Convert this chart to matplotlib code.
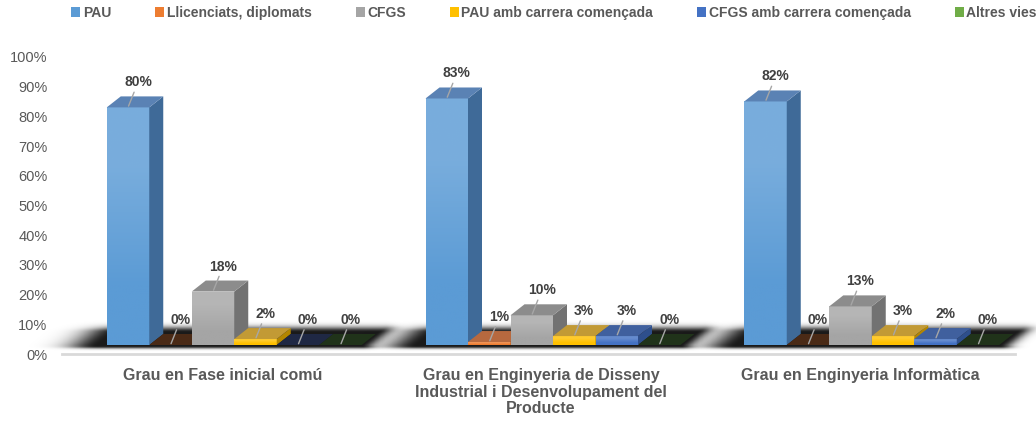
import numpy as np
import matplotlib
matplotlib.use("Agg")
import matplotlib.pyplot as plt
from matplotlib.patches import Polygon, Patch
from matplotlib.colors import to_rgb

plt.rcParams['font.family'] = ['Liberation Sans', 'DejaVu Sans']

# --- data ---
categories = ["Grau en Fase inicial comú",
              "Grau en Enginyeria de Disseny\nIndustrial i Desenvolupament del\nProducte",
              "Grau en Enginyeria Informàtica"]
series = ["PAU", "Llicenciats, diplomats", "CFGS", "PAU amb carrera començada",
          "CFGS amb carrera començada", "Altres vies"]
pau = [0.80, 0.83, 0.82]
llicenciats = [0.00, 0.01, 0.00]
cfgs = [0.18, 0.10, 0.13]
pau_amb = [0.02, 0.03, 0.03]
cfgs_amb = [0.00, 0.03, 0.02]
altres = [0.00, 0.00, 0.00]
yticks = [0, 0.1, 0.2, 0.3, 0.4, 0.5, 0.6, 0.7, 0.8, 0.9, 1.0]

values = [pau, llicenciats, cfgs, pau_amb, cfgs_amb, altres]

# --- style ---
front = ['#5B9BD5', '#ED7D31', '#A5A5A5', '#FFC000', '#4472C4', '#70AD47']
side = ['#3F6A98', '#A4561F', '#727272', '#B38600', '#2E4F8C', '#4D7A30']
top = ['#5A82B4', '#B7693F', '#8C8C8C', '#C29A35', '#40609E', '#4E7A34']
top_zero = ['#3A5A80', '#4A2A16', '#6A6A6A', '#7A5E1A', '#1F2844', '#20331A']
txt = '#595959'

GROUP_STEP = 7.5
FLOOR = 9 / 297
DX = 14 / 42.5
DY = 11 / 297

fig = plt.figure(figsize=(10.36, 4.21), dpi=100)
W, H = 1036, 421
ax = fig.add_axes([60 / W, 1 - 365 / H, (1025 - 60) / W, (365 - 45) / H])
xlim = ((60 - 128) / 42.5, (1025 - 128) / 42.5)
ylim = ((354 - 365) / 297, (354 - 45) / 297)

ax.plot([(62 - 128) / 42.5, (1015 - 128) / 42.5], [0, 0], color='#D9D9D9', lw=2, zorder=0.5)

# soft floor shadows (blurred parallelogram under each group)
for g in range(len(categories)):
    x0 = g * GROUP_STEP - 0.5
    x1 = g * GROUP_STEP + 5.5
    gx = np.linspace(x0 - 2.2, x1 + 1.6, 500)
    gy = np.linspace(FLOOR - 0.04, FLOOR + 0.10, 120)
    X, Y = np.meshgrid(gx, gy)
    t = np.clip((Y - FLOOR) / DY, 0, 1.6)
    left = x0 - 0.2 + t * DX
    right = x1 + t * DX
    dxl = np.clip(left - X, 0, None)
    dxr = np.clip(X - right, 0, None)
    dyb = np.clip(FLOOR - 0.004 - Y, 0, None)
    dyt = np.clip(Y - (FLOOR + DY + 0.006), 0, None)
    a = np.exp(-(dxl / 0.7) ** 2 - (dxr / 0.3) ** 2 - (dyb / 0.008) ** 2 - (dyt / 0.018) ** 2)
    img = np.zeros(a.shape + (4,))
    img[..., 3] = 0.9 * a
    ax.imshow(img, extent=(gx[0], gx[-1], gy[0], gy[-1]), origin='lower',
              aspect='auto', interpolation='bilinear', zorder=1, clip_on=False)

z = 2
for g in range(len(categories)):
    for i, s in enumerate(series):
        v = values[i][g]
        xc = g * GROUP_STEP + i
        bars = ax.bar(xc, v, width=1.0, bottom=FLOOR, color=front[i], edgecolor='none', zorder=z)
        if v > 0:
            c = np.array(to_rgb(front[i]))
            light = c + (1 - c) * 0.18
            grad = np.array([light, c]).reshape(2, 1, 3)
            im = ax.imshow(grad, extent=(xc - 0.5, xc + 0.5, FLOOR, FLOOR + v),
                           aspect='auto', interpolation='bilinear', zorder=z + 0.01)
            im.set_clip_path(bars.patches[0])
        ax.add_patch(Polygon([(xc + 0.5, FLOOR), (xc + 0.5 + DX, FLOOR + DY),
                              (xc + 0.5 + DX, FLOOR + v + DY), (xc + 0.5, FLOOR + v)],
                             closed=True, facecolor=side[i], edgecolor='none', zorder=z + 0.02))
        ax.add_patch(Polygon([(xc - 0.5, FLOOR + v), (xc + 0.5, FLOOR + v),
                              (xc + 0.5 + DX, FLOOR + v + DY), (xc - 0.5 + DX, FLOOR + v + DY)],
                             closed=True, facecolor=top[i] if v > 0 else top_zero[i],
                             edgecolor='none', zorder=z + 0.03))
        ax.annotate(f"{v * 100:.0f}%", xy=(xc, FLOOR + v), xytext=(10, 25),
                    textcoords='offset pixels', ha='center', va='center',
                    fontsize=10, fontweight='bold', color='#404040', zorder=50,
                    arrowprops=dict(arrowstyle='-', color='#A6A6A6', lw=1,
                                    shrinkA=0, shrinkB=1))
        z += 1

ax.set_xlim(*xlim)
ax.set_ylim(*ylim)
ax.set_xticks([g * GROUP_STEP + 2.5 - 0.28 for g in range(len(categories))])
ax.set_xticklabels(categories, fontsize=11.5, fontweight='bold', color=txt, linespacing=1.15)
ax.set_yticks(yticks)
ax.set_yticklabels([f"{int(round(t * 100))}%" for t in yticks], fontsize=10.5, color=txt)
ax.tick_params(axis='both', length=0)
ax.tick_params(axis='x', pad=2)
ax.tick_params(axis='y', pad=9)
for sp in ax.spines.values():
    sp.set_visible(False)

handles = [Patch(facecolor=c, edgecolor='none') for c in front]
fig.legend(handles, series, loc='center', bbox_to_anchor=(554 / W, 1 - 13 / H), ncol=6,
           frameon=False, prop={'weight': 'bold', 'size': 10}, handlelength=0.65,
           handleheight=0.65, handletextpad=0.2, columnspacing=3.15, labelcolor=txt)

fig.savefig('out.png', dpi=100)
